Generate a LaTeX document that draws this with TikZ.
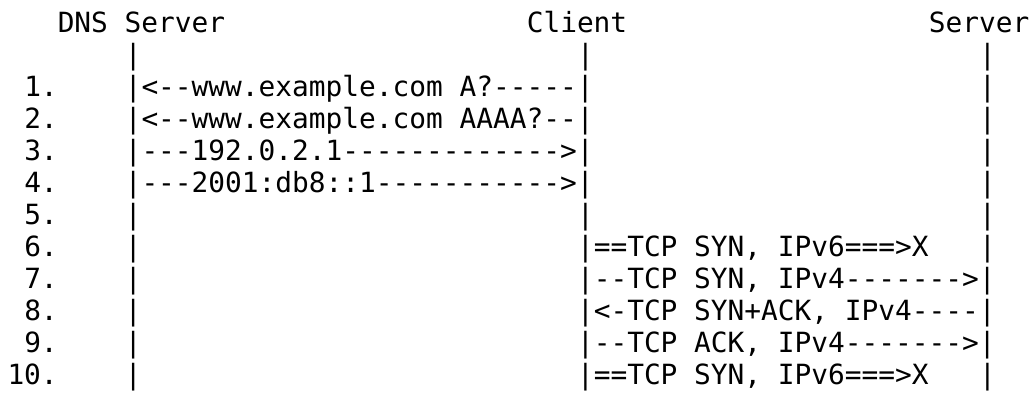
\documentclass[tikz,border=0pt]{standalone}
\usepackage{fontspec}
\setmonofont{DejaVu Sans Mono}

\tikzset{ascii/.style={font=\ttfamily\fontsize{13.91pt}{16pt}\selectfont, anchor=base west, inner sep=0pt, outer sep=0pt}}
\tikzset{every picture/.style={line width=0.75pt}}

\begin{document}
\begin{tikzpicture}[x=0.5pt,y=0.5pt,yscale=-1,xscale=1]
	%set diagram left start at 0, and has height of 392
	\path[use as bounding box] (0,0) rectangle (1032,392);

	% Text Node
	\node[ascii] (dnsHead) at (57.75,32.1) {DNS Server};
	% Text Node
	\node[ascii] (clientHead) at (526.75,32.1) {Client};
	% Text Node
	\node[ascii] (serverHead) at (928.75,32.1) {Server};

	% Text Node
	\node[ascii] (dnsBar0) at (124.75,64.1) {|};
	% Text Node
	\node[ascii] (clientBar0) at (577,64.1) {|};
	% Text Node
	\node[ascii] (serverBar0) at (979,64.1) {|};

	% Text Node
	\node[ascii] (num1) at (24.25,96.1) {1.};
	% Text Node
	\node[ascii] (num2) at (24.25,128.1) {2.};
	% Text Node
	\node[ascii] (num3) at (24.25,160.1) {3.};
	% Text Node
	\node[ascii] (num4) at (24.25,192.1) {4.};
	% Text Node
	\node[ascii] (num5) at (24.25,224.1) {5.};
	% Text Node
	\node[ascii] (num6) at (24.25,256.1) {6.};
	% Text Node
	\node[ascii] (num7) at (24.25,288.1) {7.};
	% Text Node
	\node[ascii] (num8) at (24.25,320.1) {8.};
	% Text Node
	\node[ascii] (num9) at (24.25,352.1) {9.};
	% Text Node
	\node[ascii] (num10) at (7.5,384.1) {10.};

	% Text Node
	\node[ascii] (queryA) at (124.75,96.1) {|<--www.example.com A?-----|};
	% Text Node
	\node[ascii] (serverBar1) at (979,96.1) {|};
	% Text Node
	\node[ascii] (queryAAAA) at (124.75,128.1) {|<--www.example.com AAAA?--|};
	% Text Node
	\node[ascii] (serverBar2) at (979,128.1) {|};
	% Text Node
	\node[ascii] (answerV4) at (124.75,160.1) {|---192.0.2.1------------->|};
	% Text Node
	\node[ascii] (serverBar3) at (979,160.1) {|};
	% Text Node
	\node[ascii] (answerV6) at (124.75,192.1) {|---2001:db8::1----------->|};
	% Text Node
	\node[ascii] (serverBar4) at (979,192.1) {|};

	% Text Node
	\node[ascii] (dnsBar5) at (124.75,224.1) {|};
	% Text Node
	\node[ascii] (clientBar5) at (577,224.1) {|};
	% Text Node
	\node[ascii] (serverBar5) at (979,224.1) {|};

	% Text Node
	\node[ascii] (dnsBar6) at (124.75,256.1) {|};
	% Text Node
	\node[ascii] (synV6a) at (577,256.1) {|==TCP SYN, IPv6===>X};
	% Text Node
	\node[ascii] (serverBar6) at (979,256.1) {|};

	% Text Node
	\node[ascii] (dnsBar7) at (124.75,288.1) {|};
	% Text Node
	\node[ascii] (synV4) at (577,288.1) {|--TCP SYN, IPv4------->|};
	% Text Node
	\node[ascii] (dnsBar8) at (124.75,320.1) {|};
	% Text Node
	\node[ascii] (synAckV4) at (577,320.1) {|<-TCP SYN+ACK, IPv4----|};
	% Text Node
	\node[ascii] (dnsBar9) at (124.75,352.1) {|};
	% Text Node
	\node[ascii] (ackV4) at (577,352.1) {|--TCP ACK, IPv4------->|};

	% Text Node
	\node[ascii] (dnsBar10) at (124.75,384.1) {|};
	% Text Node
	\node[ascii] (synV6b) at (577,384.1) {|==TCP SYN, IPv6===>X};
	% Text Node
	\node[ascii] (serverBar10) at (979,384.1) {|};

\end{tikzpicture}
\end{document}
